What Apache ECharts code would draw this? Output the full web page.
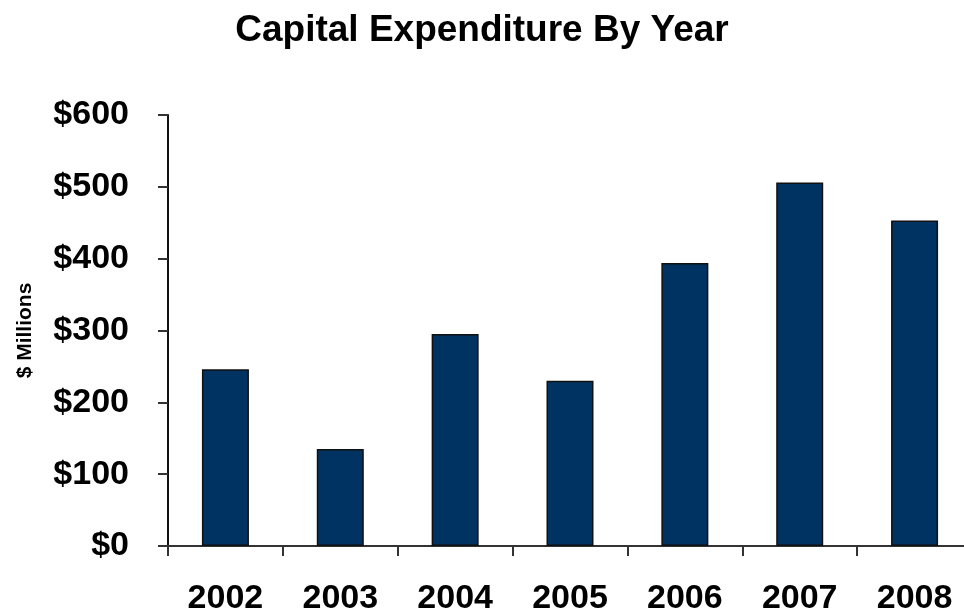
<!DOCTYPE html>
<html>
<head>
<meta charset="utf-8">
<title>Capital Expenditure By Year</title>
<script src="https://cdn.jsdelivr.net/npm/echarts@6/dist/echarts.min.js"></script>
<style>
  html, body { margin: 0; padding: 0; background: #ffffff; }
  #chart { width: 964px; height: 610px; }
</style>
</head>
<body>
<div id="chart"></div>
<script>
// Capital expenditure by fiscal year, in $ millions
const years = ['2002', '2003', '2004', '2005', '2006', '2007', '2008'];
const capex = [246, 135, 295, 230, 394, 506, 453];
const yTicks = [0, 100, 200, 300, 400, 500, 600];

const FONT = '"Liberation Sans", Arial, Helvetica, sans-serif';

const chart = echarts.init(document.getElementById('chart'), null, { renderer: 'canvas' });

chart.setOption({
  backgroundColor: '#ffffff',
  animation: false,
  title: {
    text: 'Capital Expenditure By Year',
    left: 'center',
    top: 7,
    textStyle: { fontFamily: FONT, fontWeight: 'bold', fontSize: 37, color: '#000000' }
  },
  // fixed plot rectangle; labels may sit outside it
  grid: { left: 168, top: 115, bottom: 64, right: -8, containLabel: false, outerBoundsMode: 'none' },
  xAxis: {
    type: 'category',
    data: years,
    axisLine: { lineStyle: { color: '#333333', width: 2 } },
    axisTick: { show: true, length: 10, inside: false, lineStyle: { color: '#333333', width: 2 } },
    axisLabel: { margin: 36, fontFamily: FONT, fontWeight: 'bold', fontSize: 34, color: '#000000' }
  },
  yAxis: {
    type: 'value',
    min: yTicks[0],
    max: yTicks[yTicks.length - 1],
    interval: yTicks[1] - yTicks[0],
    name: '$ Millions',
    nameLocation: 'middle',
    nameRotate: 90,
    nameGap: 132,
    nameTextStyle: { fontFamily: FONT, fontWeight: 'bold', fontSize: 21, color: '#000000' },
    axisLine: { show: true, lineStyle: { color: '#111111', width: 2 } },
    axisTick: { show: true, length: 10, inside: false, lineStyle: { color: '#333333', width: 2 } },
    splitLine: { show: false },
    axisLabel: {
      margin: 39,
      fontFamily: FONT, fontWeight: 'bold', fontSize: 34, color: '#000000',
      formatter: v => '$' + v
    }
  },
  series: [{
    type: 'bar',
    data: capex,
    barWidth: 47,
    itemStyle: { color: '#003362', borderColor: '#111111', borderWidth: 1.5 }
  }]
});
</script>
</body>
</html>
